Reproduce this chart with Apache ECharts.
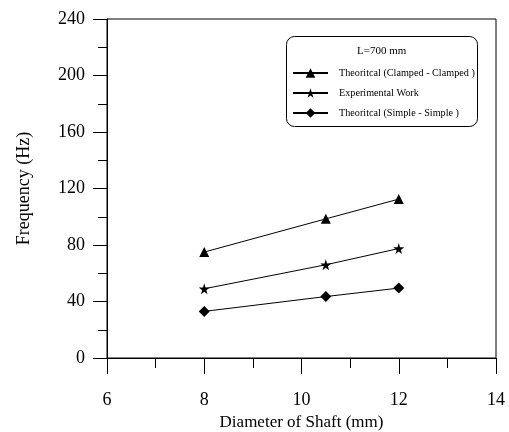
<!DOCTYPE html>
<html>
<head>
<meta charset="utf-8">
<script src="https://cdn.jsdelivr.net/npm/echarts@6/dist/echarts.min.js"></script>
<style>
  html, body { margin: 0; padding: 0; background: #fff; }
  #chart { width: 509px; height: 432px; }
</style>
</head>
<body>
<div id="chart"></div>
<script>
// shaft diameters (mm)
const diameters = [8, 10.5, 12];
// frequencies (Hz)
const clampedFreq = [75, 98.5, 112.5];
const experimentalFreq = [49, 66, 77.5];
const simpleFreq = [33, 43.5, 49.5];

const seriesNames = [
  "Theoritcal (Clamped - Clamped )",
  "Experimental Work",
  "Theoritcal (Simple - Simple )",
];
const legendTitle = "L=700 mm";

const starPath =
  "path://M50,0 L61,35 L98,35 L68,57 L79,91 L50,70 L21,91 L32,57 L2,35 L39,35 Z";

const fontFamily = "'Liberation Serif', 'DejaVu Serif', serif";

function pairs(values) {
  return diameters.map(function (d, i) {
    return [d, values[i]];
  });
}

function lineSeries(name, values, symbol, size) {
  return {
    name: name,
    type: "line",
    data: pairs(values),
    symbol: symbol,
    symbolSize: size,
    showSymbol: true,
    lineStyle: { color: "#000", width: 1 },
    itemStyle: { color: "#000" },
    animation: false,
  };
}

const chart = echarts.init(document.getElementById("chart"));

const option = {
  backgroundColor: "#fff",
  textStyle: { fontFamily: fontFamily, color: "#000" },
  grid: {
    left: 107,
    right: 13,
    top: 19,
    bottom: 74,
    outerBoundsMode: "none",
    containLabel: false,
    show: true,
    borderColor: "#000",
    borderWidth: 1,
  },
  xAxis: {
    type: "value",
    min: 6,
    max: 14,
    interval: 2,
    name: "Diameter of Shaft (mm)",
    nameLocation: "middle",
    nameGap: 52,
    nameTextStyle: { fontSize: 17, fontFamily: fontFamily, color: "#000" },
    axisLine: { lineStyle: { color: "#000", width: 1 } },
    axisTick: { show: true, inside: false, length: 16, lineStyle: { color: "#000" } },
    minorTick: { show: true, splitNumber: 2, length: 10, lineStyle: { color: "#000" } },
    axisLabel: { fontSize: 18, margin: 33, color: "#000", fontFamily: fontFamily },
    splitLine: { show: false },
  },
  yAxis: {
    type: "value",
    min: 0,
    max: 240,
    interval: 40,
    name: "Frequency (Hz)",
    nameLocation: "middle",
    nameGap: 74,
    nameTextStyle: { fontSize: 18, fontFamily: fontFamily, color: "#000" },
    axisLine: { show: true, lineStyle: { color: "#000", width: 1 } },
    axisTick: { show: true, inside: false, length: 14, lineStyle: { color: "#000" } },
    minorTick: { show: true, splitNumber: 2, length: 9, lineStyle: { color: "#000" } },
    axisLabel: { fontSize: 18, margin: 22, color: "#000", fontFamily: fontFamily },
    splitLine: { show: false },
  },
  legend: {
    orient: "vertical",
    left: 287,
    top: 63,
    itemWidth: 35,
    itemHeight: 12,
    itemGap: 10,
    data: seriesNames,
    textStyle: { fontSize: 10.2, fontFamily: fontFamily, color: "#000", padding: [0, 0, 0, 6] },
  },
  graphic: [
    {
      type: "rect",
      left: 286,
      top: 36,
      shape: { width: 191, height: 90, r: 8 },
      style: { fill: "#fff", stroke: "#000", lineWidth: 1 },
      z: -1,
    },
    {
      type: "text",
      left: 357,
      top: 46,
      style: { text: legendTitle, fontSize: 11, fontFamily: fontFamily, fill: "#000" },
    },
  ],
  series: [
    lineSeries(seriesNames[0], clampedFreq, "triangle", 10),
    lineSeries(seriesNames[1], experimentalFreq, starPath, 11),
    lineSeries(seriesNames[2], simpleFreq, "diamond", 11),
  ],
};

chart.setOption(option);
</script>
</body>
</html>
